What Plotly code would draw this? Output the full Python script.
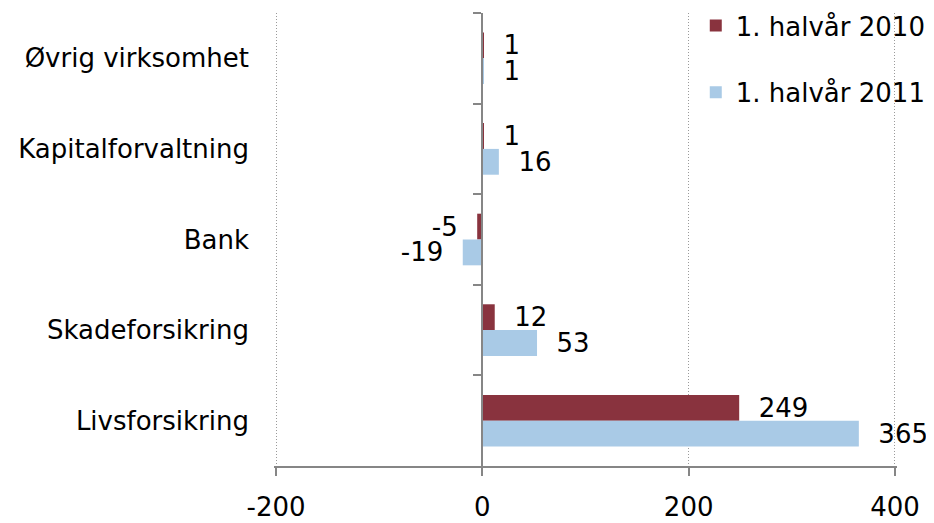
import plotly.graph_objects as go

categories = ["Øvrig virksomhet", "Kapitalforvaltning", "Bank", "Skadeforsikring", "Livsforsikring"]
vals_2010 = [1, 1, -5, 12, 249]
vals_2011 = [1, 16, -19, 53, 365]
series_names = ["1. halvår 2010", "1. halvår 2011"]
x_ticks = [-200, 0, 200, 400]

FONT = "DejaVu Sans"
FS = 26
RED = "#89333E"
BLUE = "#A9CAE6"
GRID = "#9A9A9A"
AXIS = "#868686"
XR = [-202, 402]


def label(v):
    return f"  {v}" if v >= 0 else f"{v}  "


fig = go.Figure()
for name, vals, col, grp in [(series_names[0], vals_2010, RED, "a"), (series_names[1], vals_2011, BLUE, "b")]:
    fig.add_trace(go.Bar(
        y=categories, x=vals, orientation="h", name=name,
        marker=dict(color=col, line=dict(width=0)),
        text=[label(v) for v in vals], textposition="outside", constraintext="none",
        textfont=dict(family=FONT, size=FS, color="black"),
        cliponaxis=False, legendgroup=grp,
    ))

# helper trace so the category-boundary tick axis at x=0 is drawn
fig.add_trace(go.Scatter(x=[None], y=[None], yaxis="y2", showlegend=False, hoverinfo="skip"))

fig.update_layout(
    width=934, height=523,
    margin=dict(l=266, r=45, t=5, b=65, autoexpand=False),
    plot_bgcolor="white", paper_bgcolor="white",
    barmode="group", bargap=0.43, bargroupgap=0,
    font=dict(family=FONT, size=FS, color="black"),
    showlegend=True,
    legend=dict(x=0.677, y=1.024, xanchor="left", yanchor="top",
                bgcolor="rgba(0,0,0,0)", traceorder="grouped",
                tracegroupgap=30, font=dict(family=FONT, size=FS)),
    xaxis=dict(range=XR, tickvals=x_ticks, ticktext=[str(t) for t in x_ticks],
               showgrid=True, gridcolor=GRID, griddash="1px,2px", gridwidth=1,
               zeroline=True, zerolinecolor=AXIS, zerolinewidth=2,
               showline=True, linecolor=AXIS, linewidth=2,
               ticks="outside", ticklen=8, tickcolor=AXIS, tickwidth=2,
               ticklabelstandoff=9,
               tickfont=dict(family=FONT, size=FS), fixedrange=True),
    yaxis=dict(categoryorder="array", categoryarray=categories, autorange="reversed",
               showgrid=False, zeroline=False, showline=False, ticks="",
               ticklabelstandoff=24,
               tickfont=dict(family=FONT, size=FS)),
    yaxis2=dict(overlaying="y", anchor="free", position=(0 - XR[0]) / (XR[1] - XR[0]), side="left",
                range=[4.5, -0.5], tickvals=[-0.5, 0.5, 1.5, 2.5, 3.5],
                showticklabels=False, ticks="outside", ticklen=8, tickcolor=AXIS, tickwidth=2,
                showline=True, linecolor=AXIS, linewidth=2, showgrid=False, zeroline=False),
)

fig.write_html("out.html")
